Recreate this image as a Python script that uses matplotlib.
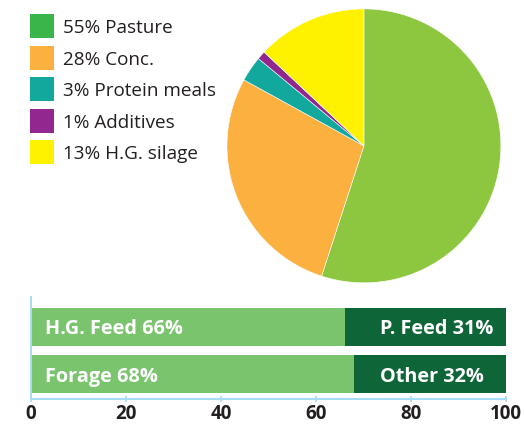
import matplotlib
matplotlib.use("Agg")
import matplotlib.pyplot as plt
from matplotlib.patches import Rectangle

plt.rcParams['font.family'] = ['Open Sans', 'DejaVu Sans']

# pie data
feed_labels = ['55% Pasture', '28% Conc.', '3% Protein meals', '1% Additives', '13% H.G. silage']
feed_share = [55, 28, 3, 1, 13]
pie_colors = ['#8DC63F', '#FBB040', '#13A89E', '#92278F', '#FFF200']
legend_colors = ['#39B54A', '#FBB040', '#13A89E', '#92278F', '#FFF200']

# bar data (bottom row first)
bar_rows = ['Forage', 'H.G. Feed']
bar_main = [68, 66]
bar_main_labels = ['Forage 68%', 'H.G. Feed 66%']
bar_rest_labels = ['Other 32%', 'P. Feed 31%']

light_green = '#7BC46E'
dark_green = '#0E6638'
axis_blue = '#A6DCF5'
text_dark = '#231F20'

W, H = 524, 424
fig = plt.figure(figsize=(W / 100, H / 100), dpi=100)

# Pie
ax_pie = fig.add_axes([0.433, 0.333, 0.523, 0.646])
ax_pie.pie(feed_share, colors=pie_colors, startangle=90, counterclock=False,
           wedgeprops=dict(linewidth=0.4, edgecolor='white'))
ax_pie.set_xlim(-1.0, 1.0)
ax_pie.set_ylim(-1.0, 1.0)
ax_pie.set_aspect('equal')
ax_pie.axis('off')

# Legend (drawn by hand, pixel layout from the top-left)
for i, (lab, col) in enumerate(zip(feed_labels, legend_colors)):
    yc = 26 + 31.6 * i
    fig.patches.append(Rectangle((30 / W, 1 - (yc + 12) / H), 24 / W, 24 / H,
                                 transform=fig.transFigure, facecolor=col,
                                 edgecolor='none'))
    fig.text(63 / W, 1 - yc / H, lab, fontsize=13.6, color=text_dark,
             va='center_baseline', ha='left')

# Bars
ax = fig.add_axes([0.059, 0.059, 0.907, 0.241])
ypos = list(range(len(bar_rows)))
rest = [100 - v for v in bar_main]
ax.barh(ypos, bar_main, height=0.81, color=light_green, zorder=2)
ax.barh(ypos, rest, left=bar_main, height=0.81, color=dark_green, zorder=2)
for y, lab_a, lab_b in zip(ypos, bar_main_labels, bar_rest_labels):
    ax.text(3.0, y, lab_a, color='white', fontweight='bold', fontsize=14.3,
            va='center_baseline', ha='left', zorder=3)
    ax.text(73.4, y, lab_b, color='white', fontweight='bold', fontsize=14.3,
            va='center_baseline', ha='left', zorder=3)

ax.set_xlim(0, 100)
ax.set_ylim(-0.53, 1.64)
ax.set_xticks([0, 20, 40, 60, 80, 100])
ax.set_yticks([])
for side in ['top', 'right']:
    ax.spines[side].set_visible(False)
for side in ['left', 'bottom']:
    ax.spines[side].set_color(axis_blue)
    ax.spines[side].set_linewidth(1.5)
    ax.spines[side].set_zorder(4)
ax.tick_params(axis='x', direction='inout', length=5, width=1.2, color=axis_blue,
               labelcolor=text_dark, labelsize=13.5, pad=1)
for t in ax.get_xticklabels():
    t.set_fontweight('bold')
ax.patch.set_alpha(0)

fig.savefig('out.png', dpi=100)
